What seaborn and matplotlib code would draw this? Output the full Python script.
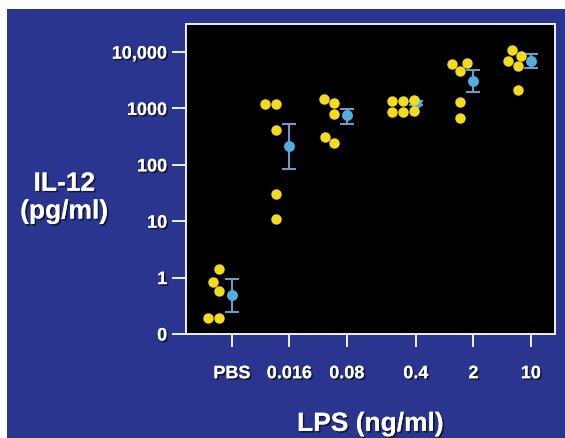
import numpy as np
import pandas as pd
import matplotlib
matplotlib.use("Agg")
import matplotlib.pyplot as plt
import matplotlib.patheffects as pe
from matplotlib.patches import Rectangle
import seaborn as sns

# LPS doses and IL-12 (pg/ml, "0" drawn at 0.1)
doses = ["PBS", "0.016", "0.08", "0.4", "2", "10"]
il12_pbs = [1.4, 0.82, 0.57, 0.19, 0.19]
il12_016 = [1190, 1190, 410, 31, 11]
il12_08 = [1460, 1240, 790, 310, 240]
il12_04 = [1380, 1400, 1330, 900, 870, 860]
il12_2 = [6370, 6110, 4590, 1290, 670]
il12_10 = [10860, 8490, 6920, 5640, 2110]

mean_il12 = [0.49, 212, 757, 1240, 3050, 6920]
err_low = [0.25, 86, 523, 1150, 1940, 5190]
err_high = [0.95, 524, 968, 1360, 4790, 9200]

y_ticks = [0.1, 1, 10, 100, 1000, 10000]
y_labels = ["0", "1", "10", "100", "1000", "10,000"]

# slide layout: the 0.4 column sits a bit further right
tick_pos = [0, 1, 2, 3.2, 4.2, 5.2]
dot_shift = -0.23

groups = [il12_pbs, il12_016, il12_08, il12_04, il12_2, il12_10]
rows = []
for pos, vals in zip(tick_pos, groups):
    for v in vals:
        rows.append({"xpos": pos + dot_shift, "il12": v})
df = pd.DataFrame(rows)

navy = "#29358f"
yellow = "#f4dc1c"
light_blue = "#52aee0"
bar_blue = "#6b9dc8"

plt.rcParams["font.family"] = ["Liberation Sans", "DejaVu Sans"]
shadow = [pe.withSimplePatchShadow(offset=(1.2, -1.2), shadow_rgbFace="black", alpha=0.6), pe.Normal()]

fig = plt.figure(figsize=(5.65, 4.38), dpi=100, facecolor="white")
fig.add_artist(Rectangle((7 / 565, 0), 1, 1 - 9 / 438, transform=fig.transFigure,
                         facecolor=navy, edgecolor="none", zorder=-5))
ax = fig.add_axes([186 / 565, 1 - 334 / 438, 369 / 565, 310 / 438])
ax.set_facecolor("black")
ax.set_yscale("log")

# error bars and means
mean = np.array(mean_il12)
yerr = [mean - np.array(err_low), np.array(err_high) - mean]
ax.errorbar(tick_pos, mean, yerr=yerr, fmt="none", ecolor=bar_blue, elinewidth=1.5,
            capsize=4.7, capthick=1.5, zorder=2)
sns.scatterplot(x=tick_pos, y=mean_il12, color=light_blue, s=62, linewidth=0, ax=ax, zorder=3)

# individual animals
sns.swarmplot(data=df, x="xpos", y="il12", native_scale=True, orient="x", color=yellow,
              size=7.5, linewidth=0, ax=ax, zorder=4)

ax.set_ylim(0.1, 31500)
ax.set_xlim(-0.8, 5.62)
ax.set_yticks(y_ticks)
ax.set_yticklabels(y_labels)
ax.yaxis.set_minor_locator(matplotlib.ticker.NullLocator())
ax.set_xticks(tick_pos)
ax.set_xticklabels(doses)

for sp in ax.spines.values():
    sp.set_color("white")
    sp.set_linewidth(1.3)
ax.tick_params(axis="y", colors="white", length=10, width=1.3, pad=3.5, labelsize=13)
ax.tick_params(axis="x", colors="white", length=9.5, width=1.3, pad=13, labelsize=13)
for lab in ax.get_xticklabels() + ax.get_yticklabels():
    lab.set_fontweight("bold")
    lab.set_path_effects(shadow)

ax.set_xlabel("LPS (ng/ml)", color="white", fontsize=19, fontweight="bold", va="center")
ax.xaxis.set_label_coords(0.5, -0.29)
ax.set_ylabel("IL-12\n(pg/ml)", color="white", fontsize=19, fontweight="bold",
              rotation=0, ha="center", va="center", linespacing=1.2)
ax.yaxis.set_label_coords(-0.33, 0.44)
ax.xaxis.label.set_path_effects(shadow)
ax.yaxis.label.set_path_effects(shadow)

fig.savefig("out.png", dpi=100, facecolor=fig.get_facecolor())
